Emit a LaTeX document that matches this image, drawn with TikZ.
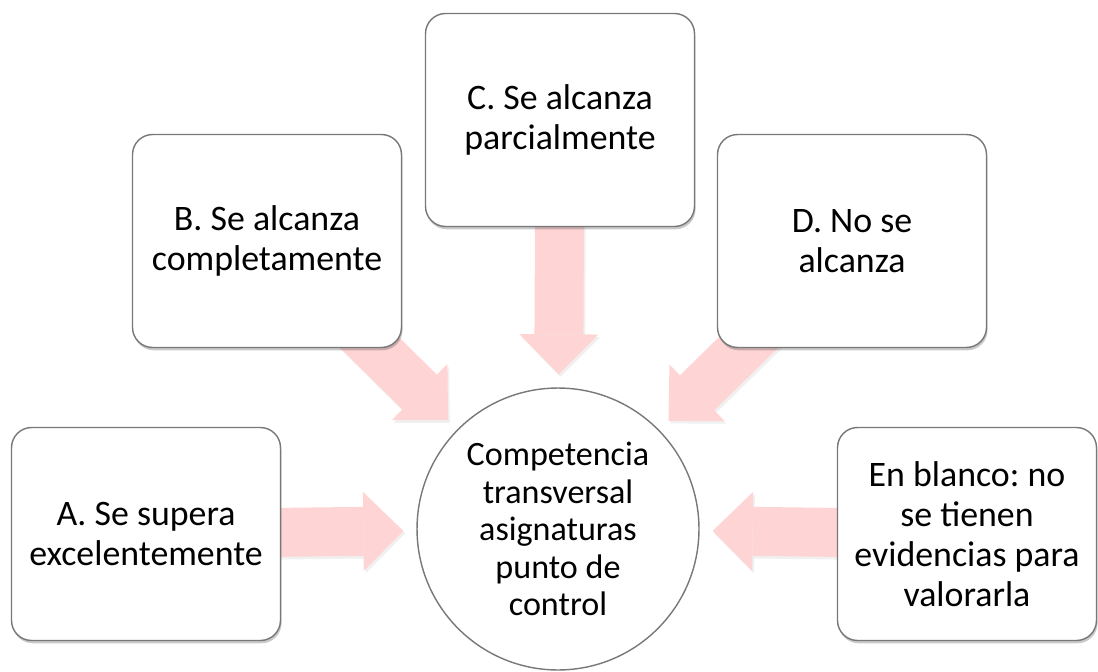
\documentclass[tikz,border=0pt]{standalone}
\usepackage{fontspec}
\setmainfont{Carlito}
\frenchspacing
\usetikzlibrary{arrows.meta,shadows}
\definecolor{arrowpink}{RGB}{255,212,212}
\definecolor{edgegray}{RGB}{120,120,120}
\newcommand{\rubfont}{\fontsize{20.4}{22.8}\selectfont}
\newcommand{\hubfont}{\fontsize{19.4}{21.4}\selectfont}
\pgfdeclarelayer{bg}
\pgfsetlayers{bg,main}
\tikzset{
  >=latex,
}
\tikzstyle{level}=[draw=edgegray,line width=0.8pt,fill=white,rounded corners=0.4cm,
  minimum width=5.38cm,minimum height=4.26cm,inner sep=0pt,align=center,font=\rubfont,
  drop shadow={shadow xshift=0.6pt,shadow yshift=-1.6pt,opacity=0.3,fill=black!70}]
\tikzstyle{hub}=[circle,draw=edgegray,line width=0.8pt,fill=white,minimum size=5.64cm,
  inner sep=0pt,align=center,font=\hubfont]
\tikzstyle{flow}=[line width=0.98cm,draw=arrowpink,shorten >=0.26cm,shorten <=-1cm,
  -{Triangle[width=1.58cm,length=0.8cm,line width=0pt]}]
\tikzstyle{flowshadow}=[flow,draw=black,opacity=0.06,transform canvas={shift={(1pt,-1.5pt)}}]

\begin{document}
\begin{tikzpicture}[x=0.02cm,y=-0.02cm]
    \useasboundingbox (0,0) rectangle (1098,672);
    \node[hub] (core) at (558,529) {Competencia\\transversal\\asignaturas\\punto de\\control};
    \node[level] (lvA) at (146,534) {A. Se supera\\excelentemente};
    \node[level] (lvB) at (267,241) {B. Se alcanza\\completamente};
    \node[level] (lvC) at (560,120) {C. Se alcanza\\parcialmente};
    \node[level] (lvD) at (852,241) {D. No se\\alcanza};
    \node[level,minimum width=5.18cm] (lvE) at (967,534) {En blanco: no\\se tienen\\evidencias para\\valorarla};
    \begin{pgfonlayer}{bg}
      \foreach \lv in {lvA,lvB,lvC,lvD,lvE}
        \draw[flowshadow] (\lv) -- (core);
      \foreach \lv in {lvA,lvB,lvC,lvD,lvE}
        \draw[flow] (\lv) -- (core);
    \end{pgfonlayer}
\end{tikzpicture}
\end{document}
